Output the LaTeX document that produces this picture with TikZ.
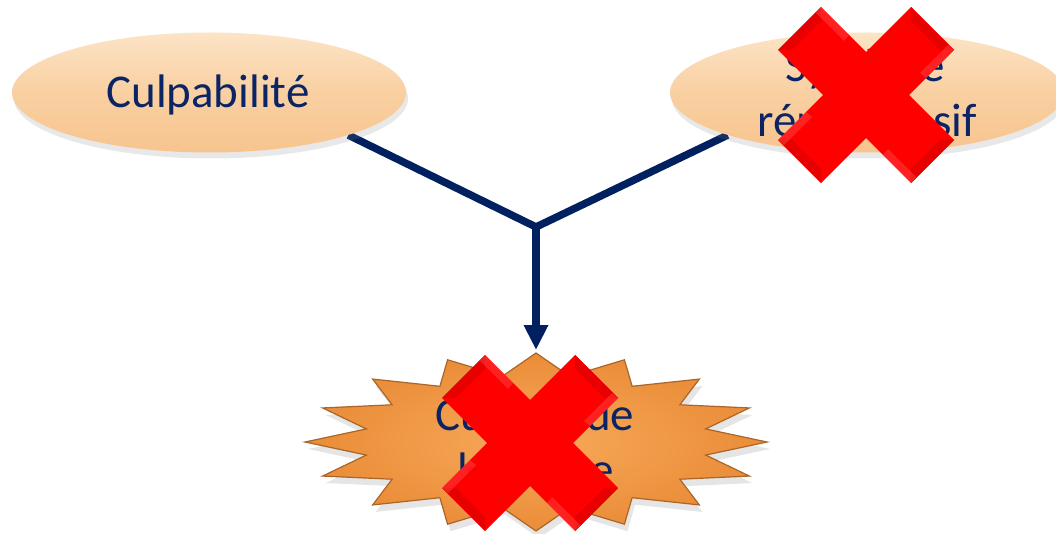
\documentclass[tikz,border=0pt]{standalone}
\usepackage{fontspec}
\setmainfont{Carlito}
\usetikzlibrary{shapes.geometric,shadows,arrows.meta,backgrounds}
\definecolor{navy}{RGB}{0,32,96}
\definecolor{txtblue}{RGB}{10,36,100}
\definecolor{peachA}{RGB}{252,228,198}
\definecolor{peachB}{RGB}{249,208,162}
\definecolor{peachC}{RGB}{247,196,142}
\definecolor{orA}{RGB}{247,170,90}
\definecolor{orB}{RGB}{234,140,56}
\definecolor{orEdge}{RGB}{170,102,40}
\definecolor{xred}{RGB}{255,0,0}
\definecolor{xdark}{RGB}{232,0,0}
\definecolor{xlight}{RGB}{255,110,110}

\newcommand\redcross[2]{%
  \begin{scope}[shift={(#1,#2)}]
    \fill[xred] (-45,-88) -- (0,-43) -- (45,-88) -- (88,-45) -- (43,0) -- (88,45)
      -- (45,88) -- (0,43) -- (-45,88) -- (-88,45) -- (-43,0) -- (-88,-45) -- cycle;
    \foreach \r in {0,90,180,270}{
      \begin{scope}[rotate=\r]
        \fill[xdark] (-45,-88) -- (-88,-45) -- (-74,-45) -- (-45,-74) -- cycle;
        \fill[xlight,opacity=0.3] (-45,-88) -- (-17,-60) -- (-22,-54) -- (-50,-82) -- cycle;
      \end{scope}}
  \end{scope}}

\begin{document}
\begin{tikzpicture}[x=1pt,y=-1pt,
  oval/.style={ellipse, minimum width=394pt, minimum height=120pt, inner sep=0pt,
    top color=peachA, bottom color=peachC, middle color=peachB, draw=none,
    drop shadow={opacity=0.18, shadow xshift=2pt, shadow yshift=-6pt}},
  lbl/.style={font=\fontsize{47}{56}\selectfont, text=txtblue, inner sep=0pt, anchor=base},
  link/.style={draw=navy, line width=7.5pt},
  burststyle/.style={inner color=orA, outer color=orB, draw=orEdge, line width=1.2pt,
    drop shadow={opacity=0.2, shadow xshift=3pt, shadow yshift=-7pt}}]

\useasboundingbox (0,0) rectangle (1056,534);

% top ellipses
\node[oval] (cul) at (209,92.5) {};
\node[oval] (sys) at (867,92.5) {};

% starburst
\coordinate (burst) at (536,442);
\coordinate (bursttip) at (536,350);
\path[burststyle] (767,442)
  \foreach \k in {0,...,15} {
    -- ({536+231*cos(22.5*\k)},{442-89*sin(22.5*\k)})
    -- ({536+173*cos(22.5*\k+11.25)},{442-67*sin(22.5*\k+11.25)})
  } -- cycle;

% junction and connectors
\coordinate (J) at (536,227);
\begin{scope}[on background layer]
  \fill[white] (0,0) rectangle (1056,534);
  \draw[link] (cul.-17.3) -- (J) -- (sys.197.3);
\end{scope}
\draw[link,-{Triangle[length=25pt,width=23pt]}] (J) -- (bursttip);

% texts
\node[lbl] (culT) at (208,108) {Culpabilité};
\node[lbl] (sysT1) at (865,82) {Système};
\node[lbl] (sysT2) at (867,137) {répréhensif};
\node[lbl] (burT1) at (535,430) {Culture de};
\node[lbl] (burT2) at (536,485) {la honte};

% red crosses
\redcross{866}{95}
\redcross{530}{443}
\end{tikzpicture}
\end{document}
